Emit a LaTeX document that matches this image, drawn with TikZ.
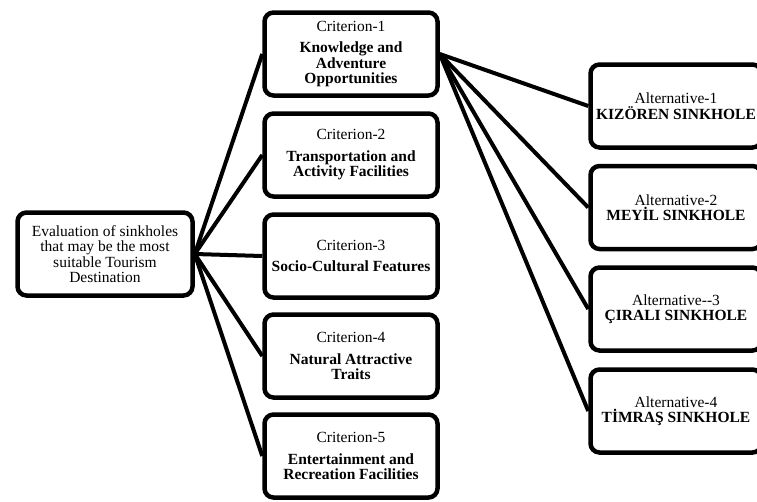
\documentclass[tikz,border=0pt]{standalone}
\usepackage{fontspec}
\setmainfont{Liberation Serif}
\usetikzlibrary{backgrounds}
\tikzset{
  boxnode/.style={draw, line width=4.5pt, rounded corners=9pt, fill=white, align=center,
    inner sep=0pt, minimum height=83pt, font=\fontsize{15.5}{15.5}\selectfont},
  rootbox/.style={boxnode, minimum width=175pt},
  critbox/.style={boxnode, minimum width=173pt},
  altbox/.style={boxnode, minimum width=171pt},
  link/.style={line width=4pt}
}
\begin{document}
\begin{tikzpicture}[x=1pt,y=-1pt]
\clip (0,0) rectangle (757,501);
\node[rootbox] (root) at (105,254) {Evaluation of sinkholes\\that may be the most\\suitable Tourism\\Destination};
\node[critbox] (c1) at (351,54) {Criterion-1\\[6pt]\textbf{Knowledge and}\\\textbf{Adventure}\\\textbf{Opportunities}};
\node[critbox] (c2) at (351,155) {Criterion-2\\[6pt]\textbf{Transportation and}\\\textbf{Activity Facilities}};
\node[critbox] (c3) at (351,256) {Criterion-3\\[6pt]\textbf{Socio-Cultural Features}};
\node[critbox] (c4) at (351,356) {Criterion-4\\[6pt]\textbf{Natural Attractive}\\\textbf{Traits}};
\node[critbox] (c5) at (351,456) {Criterion-5\\[6pt]\textbf{Entertainment and}\\\textbf{Recreation Facilities}};
\node[altbox] (a1) at (676,106) {Alternative-1\\\textbf{KIZÖREN SINKHOLE}};
\node[altbox] (a2) at (676,207.5) {Alternative-2\\\textbf{MEYİL SINKHOLE}};
\node[altbox] (a3) at (676,309) {Alternative-{}-3\\\textbf{ÇIRALI SINKHOLE}};
\node[altbox] (a4) at (676,411) {Alternative-4\\\textbf{TİMRAŞ SINKHOLE}};
\begin{scope}[on background layer]
\fill[white] (0,0) rectangle (757,501);
\foreach \c in {c1,c2,c3,c4,c5} \draw[link] (root.east) -- (\c.west);
\foreach \a in {a1,a2,a3,a4} \draw[link] (c1.east) -- (\a.west);
\end{scope}
\end{tikzpicture}
\end{document}
